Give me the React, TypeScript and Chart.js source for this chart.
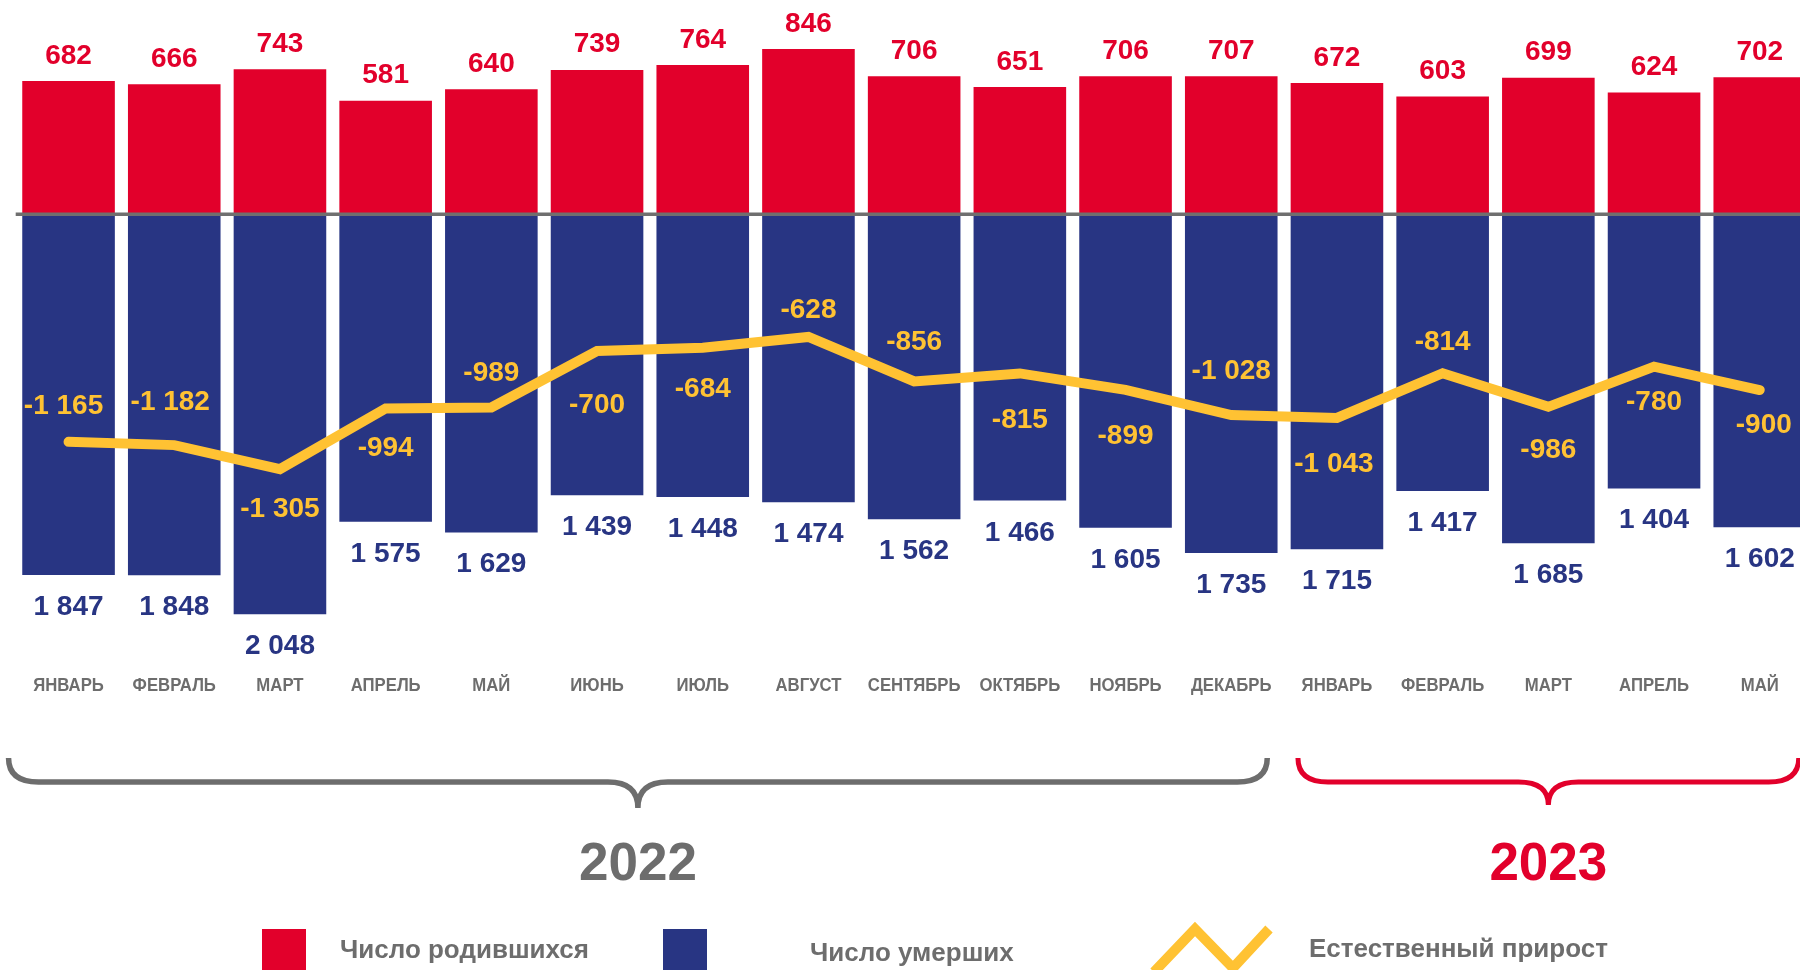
import React, { useEffect, useRef } from 'react';
import { Chart, registerables } from 'chart.js';

Chart.register(...registerables);

const MONTHS = ['ЯНВАРЬ', 'ФЕВРАЛЬ', 'МАРТ', 'АПРЕЛЬ', 'МАЙ', 'ИЮНЬ', 'ИЮЛЬ', 'АВГУСТ', 'СЕНТЯБРЬ', 'ОКТЯБРЬ', 'НОЯБРЬ', 'ДЕКАБРЬ', 'ЯНВАРЬ', 'ФЕВРАЛЬ', 'МАРТ', 'АПРЕЛЬ', 'МАЙ'];
const BIRTHS = [682, 666, 743, 581, 640, 739, 764, 846, 706, 651, 706, 707, 672, 603, 699, 624, 702];
const DEATHS = [1847, 1848, 2048, 1575, 1629, 1439, 1448, 1474, 1562, 1466, 1605, 1735, 1715, 1417, 1685, 1404, 1602];
const NATURAL = [-1165, -1182, -1305, -994, -989, -700, -684, -628, -856, -815, -899, -1028, -1043, -814, -986, -780, -900];

const YEAR_LABELS = ['2022', '2023'];
const YEAR_FIRST = [0, 12];
const YEAR_LAST = [11, 16];

const LEGEND_LABELS = ['Число родившихся', 'Число умерших', 'Естественный прирост'];

// vertical placement of the natural-growth labels relative to the line point (px)
const NAT_LABEL_DY = [-38, -45, 38, 38, -36, 52, 39, -29, -41, 45, 44, -46, 44, -33, 41, 33, 33];
const NAT_LABEL_DX = [-5, -4, 0, 0, 0, 0, 0, 0, 0, 0, 0, 0, -3, 0, 0, 0, 4];

const RED = '#E2002B';
const BLUE = '#283583';
const YELLOW = '#FFC233';
const GRAY = '#6d6d6d';
const FONT = '"Liberation Sans", Arial, sans-serif';

function fmt(v: number): string {
  const neg = v < 0;
  const s = String(Math.abs(Math.round(v)));
  const out = s.replace(/\B(?=(\d{3})+(?!\d))/g, ' ');
  return (neg ? '-' : '') + out;
}

function capText(ctx: CanvasRenderingContext2D, s: string, x: number, cy: number, size: number, color: string, sx = 1, align: CanvasTextAlign = 'center') {
  ctx.save();
  ctx.font = `bold ${size}px ${FONT}`;
  ctx.fillStyle = color;
  ctx.textAlign = align;
  ctx.textBaseline = 'alphabetic';
  ctx.translate(x, cy + size * 0.358);
  ctx.scale(sx, 1);
  ctx.fillText(s, 0, 0);
  ctx.restore();
}

function brace(ctx: CanvasRenderingContext2D, x1: number, x2: number, yTop: number, yMid: number, yTip: number, color: string, lw: number) {
  const r = 30;
  const xc = (x1 + x2) / 2;
  ctx.save();
  ctx.strokeStyle = color;
  ctx.lineWidth = lw;
  ctx.lineCap = 'butt';
  ctx.beginPath();
  ctx.moveTo(x1, yTop);
  ctx.quadraticCurveTo(x1, yMid, x1 + r, yMid);
  ctx.lineTo(xc - r, yMid);
  ctx.quadraticCurveTo(xc, yMid, xc, yTip);
  ctx.quadraticCurveTo(xc, yMid, xc + r, yMid);
  ctx.lineTo(x2 - r, yMid);
  ctx.quadraticCurveTo(x2, yMid, x2, yTop);
  ctx.stroke();
  ctx.restore();
}

const overlayPlugin = {
  id: 'overlay',
  afterDatasetDraw(chart: any, args: any) {
    if (args.index !== 1) return;
    const { ctx, chartArea, scales } = chart;
    const y0 = scales.y.getPixelForValue(0);
    ctx.save();
    ctx.strokeStyle = '#6f6f6f';
    ctx.lineWidth = 3.5;
    ctx.beginPath();
    ctx.moveTo(chartArea.left, y0);
    ctx.lineTo(chartArea.right, y0);
    ctx.stroke();
    ctx.restore();
  },
  afterDraw(chart: any) {
    const { ctx, scales } = chart;
    const xs = scales.x;
    const ys = scales.y;
    const lineMeta = chart.getDatasetMeta(0);

    BIRTHS.forEach((v, i) => {
      const x = xs.getPixelForValue(i);
      capText(ctx, fmt(v), x, ys.getPixelForValue(v) - 27.5, 28, RED);
    });
    DEATHS.forEach((v, i) => {
      const x = xs.getPixelForValue(i);
      capText(ctx, fmt(v), x, ys.getPixelForValue(-v) + 30, 28, BLUE);
    });
    NATURAL.forEach((v, i) => {
      const pt = lineMeta.data[i];
      capText(ctx, fmt(v), pt.x + NAT_LABEL_DX[i], pt.y + NAT_LABEL_DY[i], 28, YELLOW);
    });

    MONTHS.forEach((m, i) => {
      capText(ctx, m, xs.getPixelForValue(i), 685, 18, GRAY, 0.93);
    });

    const gx1 = xs.getPixelForValue(YEAR_FIRST[0]) - 60;
    const gx2 = xs.getPixelForValue(YEAR_LAST[0]) + 36;
    brace(ctx, gx1, gx2, 758, 782, 808, GRAY, 5.5);
    capText(ctx, YEAR_LABELS[0], (gx1 + gx2) / 2, 861, 53, GRAY);

    const rx1 = xs.getPixelForValue(YEAR_FIRST[1]) - 39;
    const rx2 = xs.getPixelForValue(YEAR_LAST[1]) + 39;
    brace(ctx, rx1, rx2, 758, 782, 805, RED, 5);
    capText(ctx, YEAR_LABELS[1], (rx1 + rx2) / 2, 861, 53, RED);

    ctx.save();
    ctx.fillStyle = RED;
    ctx.fillRect(262, 929, 44, 50);
    ctx.fillStyle = BLUE;
    ctx.fillRect(663, 929, 44, 50);
    ctx.strokeStyle = YELLOW;
    ctx.lineWidth = 10;
    ctx.lineJoin = 'miter';
    ctx.beginPath();
    ctx.moveTo(1154, 972);
    ctx.lineTo(1195, 929);
    ctx.lineTo(1233, 968);
    ctx.lineTo(1269, 929);
    ctx.stroke();
    ctx.restore();
    capText(ctx, LEGEND_LABELS[0], 340, 949, 26, GRAY, 1, 'left');
    capText(ctx, LEGEND_LABELS[1], 810, 952, 26, GRAY, 1, 'left');
    capText(ctx, LEGEND_LABELS[2], 1309, 948, 26, GRAY, 1, 'left');
  },
};

export default function App() {
  const ref = useRef<HTMLCanvasElement | null>(null);

  useEffect(() => {
    if (!ref.current) return;
    const chart = new Chart(ref.current, {
      type: 'bar',
      data: {
        labels: MONTHS,
        datasets: [
          {
            type: 'line',
            label: LEGEND_LABELS[2],
            data: NATURAL,
            borderColor: YELLOW,
            backgroundColor: YELLOW,
            borderWidth: 10,
            borderCapStyle: 'round',
            borderJoinStyle: 'miter',
            pointRadius: 0,
            tension: 0,
            clip: false,
          } as any,
          {
            type: 'bar',
            label: LEGEND_LABELS[0],
            data: BIRTHS,
            backgroundColor: RED,
            grouped: false,
            barPercentage: 0.876,
            categoryPercentage: 1,
          } as any,
          {
            type: 'bar',
            label: LEGEND_LABELS[1],
            data: DEATHS.map((v) => -v),
            backgroundColor: BLUE,
            grouped: false,
            barPercentage: 0.876,
            categoryPercentage: 1,
          } as any,
        ],
      },
      options: {
        responsive: false,
        animation: false,
        devicePixelRatio: 1,
        layout: { padding: { left: 15.7, right: 17.4, top: 0, bottom: 287 } },
        plugins: { legend: { display: false }, tooltip: { enabled: false } },
        scales: {
          x: { display: false, offset: true, grid: { display: false } },
          y: { display: false, min: -2400, max: 1097 },
        },
      },
      plugins: [overlayPlugin],
    });
    return () => chart.destroy();
  }, []);

  return (
    <div style={{ position: 'fixed', left: 0, top: 0, width: 1800, height: 970, overflow: 'hidden', background: '#fff' }}>
      <canvas ref={ref} width={1830} height={970} style={{ display: 'block' }} />
    </div>
  );
}
